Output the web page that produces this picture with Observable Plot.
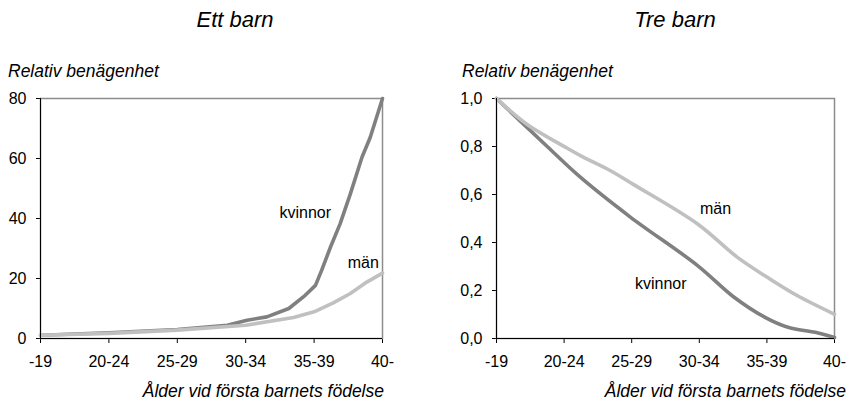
<!DOCTYPE html>
<html>
<head>
<meta charset="utf-8">
<script src="https://cdn.jsdelivr.net/npm/d3@7"></script>
<script src="https://cdn.jsdelivr.net/npm/@observablehq/plot@0.6"></script>
<style>
  html, body { margin: 0; padding: 0; background: #fff; }
  #fig { position: relative; width: 849px; height: 405px; font-family: "Liberation Sans", Arial, sans-serif; color: #000; overflow: hidden; }
  .abs { position: absolute; white-space: nowrap; line-height: 1; }
  .title { font-style: italic; font-size: 22px; transform: translateX(-50%); }
  .ylab { font-style: italic; font-size: 17.5px; }
  .xlab { font-style: italic; font-size: 17.5px; transform: translateX(-100%); }
  .panel { position: absolute; top: 0; }
</style>
</head>
<body>
<div id="fig"></div>
<script>
// Categories (age at first birth)
const ageGroups = ["-19", "20-24", "25-29", "30-34", "35-39", "40-"];

// Panel titles
const panelTitles = ["Ett barn", "Tre barn"];
const yTitle = "Relativ benägenhet";
const xTitle = "Ålder vid första barnets födelse";

// Ett barn – kvinnor
const ettKvinnorX = [0, 1, 2, 2.73, 3.02, 3.31, 3.63, 3.87, 4.02, 4.11, 4.24, 4.38, 4.53, 4.70, 4.82, 5];
const ettKvinnorY = [1.1, 1.9, 3.0, 4.4, 6.1, 7.2, 10, 14.4, 17.7, 22.7, 30.5, 38.2, 48.2, 60.4, 67, 80];
// Ett barn – män
const ettManX = [0, 1, 2, 3, 3.7, 4.0, 4.28, 4.53, 4.77, 5];
const ettManY = [1.1, 1.7, 2.8, 4.4, 7.0, 8.9, 11.9, 15.0, 18.8, 21.8];

// Tre barn – kvinnor
const treKvinnorX = [0, 0.75, 1.24, 1.98, 2.97, 3.51, 3.98, 4.3, 4.79, 5];
const treKvinnorY = [1.0, 0.80, 0.672, 0.506, 0.305, 0.173, 0.087, 0.048, 0.021, 0.004];
// Tre barn – män
const treManX = [0, 0.45, 1.04, 1.29, 1.68, 2.03, 2.97, 3.56, 4.0, 4.44, 5];
const treManY = [1.0, 0.893, 0.794, 0.755, 0.70, 0.641, 0.478, 0.339, 0.256, 0.18, 0.101];

// Y ticks
const ettYTicks = [0, 20, 40, 60, 80];
const treYTicks = [0, 0.2, 0.4, 0.6, 0.8, 1.0];

// Series labels (data coordinates)
const ettLabels = [{text: "kvinnor", x: 3.87, y: 42}, {text: "män", x: 4.72, y: 25.3}];
const treLabels = [{text: "män", x: 3.24, y: 0.54}, {text: "kvinnor", x: 2.43, y: 0.229}];

const series = ["kvinnor", "män"];
const colors = ["#808080", "#c0c0c0"];

function toRows(xs, ys, s) { return xs.map((x, i) => ({x, y: ys[i], s})); }

function panel({rows, yDomain, yTicks, yFmt, labels, curve, width, mLeft, mRight}) {
  return Plot.plot({
    width, height: 405,
    marginLeft: mLeft, marginRight: mRight, marginTop: 98, marginBottom: 67,
    style: {fontFamily: "Liberation Sans, Arial, sans-serif", fontSize: "16px", color: "#000", background: "transparent", overflow: "visible"},
    x: {domain: [0, 5], ticks: d3.range(ageGroups.length), tickFormat: i => ageGroups[i], tickSize: 5, tickPadding: 12, label: null},
    y: {domain: yDomain, ticks: yTicks, tickFormat: yFmt, tickSize: 4, tickPadding: 10, label: null},
    color: {domain: series, range: colors},
    marks: [
      Plot.frame({stroke: "#8c8c8c", strokeWidth: 1.5}),
      Plot.line(rows, {x: "x", y: "y", z: "s", stroke: "s", strokeWidth: 3.6, curve, strokeLinejoin: "round"}),
      Plot.ruleX([0], {stroke: "#000", strokeWidth: 1}),
      Plot.ruleY([yDomain[0]], {stroke: "#000", strokeWidth: 1}),
      Plot.text(labels, {x: "x", y: "y", text: "text", fontSize: 16, fill: "#000"})
    ]
  });
}

const fig = document.getElementById("fig");

const left = panel({
  rows: [...toRows(ettKvinnorX, ettKvinnorY, "kvinnor"), ...toRows(ettManX, ettManY, "män")],
  yDomain: [0, 80], yTicks: ettYTicks, yFmt: d => String(d),
  labels: ettLabels, curve: "linear", width: 424, mLeft: 40, mRight: 42
});
left.classList.add("panel"); left.style.left = "0px";
fig.appendChild(left);

const right = panel({
  rows: [...toRows(treKvinnorX, treKvinnorY, "kvinnor"), ...toRows(treManX, treManY, "män")],
  yDomain: [0, 1], yTicks: treYTicks, yFmt: d => d.toFixed(1).replace(".", ","),
  labels: treLabels, curve: "catmull-rom", width: 425, mLeft: 72, mRight: 15
});
right.classList.add("panel"); right.style.left = "424px";
fig.appendChild(right);

function addText(cls, txt, x, y) {
  const d = document.createElement("div");
  d.className = "abs " + cls; d.textContent = txt;
  d.style.left = x + "px"; d.style.top = y + "px";
  fig.appendChild(d);
}
addText("title", panelTitles[0], 235, 9);
addText("title", panelTitles[1], 675, 9);
addText("ylab", yTitle, 8, 63);
addText("ylab", yTitle, 462, 63);
addText("xlab", xTitle, 384, 383);
addText("xlab", xTitle, 846, 383);
</script>
</body>
</html>
